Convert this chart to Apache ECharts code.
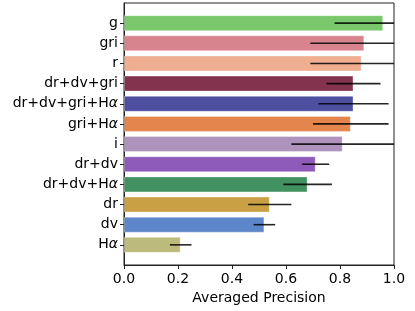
<!DOCTYPE html>
<html>
<head>
<meta charset="utf-8">
<script src="https://cdn.jsdelivr.net/npm/echarts@6/dist/echarts.min.js"></script>
<style>
html,body{margin:0;padding:0;background:#fff;}
#chart{width:415px;height:311px;}
</style>
</head>
<body>
<div id="chart"></div>
<script>
const categories = ['g', 'gri', 'r', 'dr+dv+gri', 'dr+dv+gri+Hα', 'gri+Hα', 'i', 'dr+dv', 'dr+dv+Hα', 'dr', 'dv', 'Hα'];
const means = [0.96, 0.89, 0.88, 0.85, 0.85, 0.84, 0.81, 0.71, 0.68, 0.54, 0.52, 0.21];
const errors = [0.18, 0.20, 0.19, 0.10, 0.13, 0.14, 0.19, 0.05, 0.09, 0.08, 0.04, 0.04];
const colors = ['#79c96c', '#d8848f', '#f0ae91', '#84334e', '#4e4fa0', '#e4854e', '#ae93bd', '#8f5bba', '#419260', '#c9a144', '#5d85c9', '#bdbb7b'];
const xTicks = [0, 0.2, 0.4, 0.6, 0.8, 1.0];
const xLabel = 'Averaged Precision';

// padded category axis: empty slot above first and below last
const axisCats = [' '].concat(categories, ['  ']);
const barData = [{value: null}].concat(
  means.map((m, i) => ({value: m, itemStyle: {color: colors[i]}})),
  [{value: null}]
);
const errData = means.map((m, i) => [m, i + 1, errors[i]]);

const FONT = 'DejaVu Sans';
const chart = echarts.init(document.getElementById('chart'), null, {renderer: 'canvas'});
chart.setOption({
  animation: false,
  backgroundColor: '#fff',
  grid: {left: 124, right: 21, top: 3, bottom: 46, show: true, borderColor: '#222', borderWidth: 1, backgroundColor: 'transparent'},
  xAxis: {
    type: 'value', min: 0, max: 1, interval: 0.2,
    name: xLabel, nameLocation: 'middle', nameGap: 23,
    nameTextStyle: {fontFamily: FONT, fontSize: 14, color: '#000', verticalAlign: 'top'},
    axisLine: {show: true, lineStyle: {color: '#222', width: 1}},
    axisTick: {show: true, length: 4, lineStyle: {color: '#222'}},
    axisLabel: {fontFamily: FONT, fontSize: 14, color: '#000', margin: 7,
      formatter: v => xTicks.some(t => Math.abs(t - v) < 1e-9) ? v.toFixed(1) : ''},
    splitLine: {show: false}
  },
  yAxis: {
    type: 'category', data: axisCats, inverse: true, boundaryGap: false,
    axisLine: {show: true, lineStyle: {color: '#222', width: 1}},
    axisTick: {show: true, length: 4, lineStyle: {color: '#222'}, interval: (i, v) => v.trim() !== ''},
    axisLabel: {
      fontFamily: FONT, fontSize: 14, color: '#000', margin: 6,
      interval: (i, v) => v.trim() !== '',
      formatter: v => v.replace(/α/g, '{a|α}'),
      rich: {a: {fontFamily: FONT, fontSize: 14, fontStyle: 'italic', color: '#000'}}
    },
    splitLine: {show: false}
  },
  series: [
    {
      type: 'bar', data: barData, barWidth: 16,
      itemStyle: {borderColor: 'rgba(255,255,255,0.35)', borderWidth: 1}
    },
    {
      type: 'custom', data: errData, clip: true,
      encode: {x: 0, y: 1},
      z: 5,
      renderItem: (params, api) => {
        const m = api.value(0), c = api.value(1), e = api.value(2);
        const p1 = api.coord([m - e, c]);
        const p2 = api.coord([m + e, c]);
        const cs = params.coordSys;
        const x1 = Math.max(cs.x, p1[0]);
        const x2 = Math.min(cs.x + cs.width, p2[0]);
        return {
          type: 'line',
          shape: {x1: x1, y1: p1[1], x2: x2, y2: p2[1]},
          style: {stroke: 'rgba(0,0,0,0.85)', lineWidth: 1.6}
        };
      }
    }
  ]
});
</script>
</body>
</html>
